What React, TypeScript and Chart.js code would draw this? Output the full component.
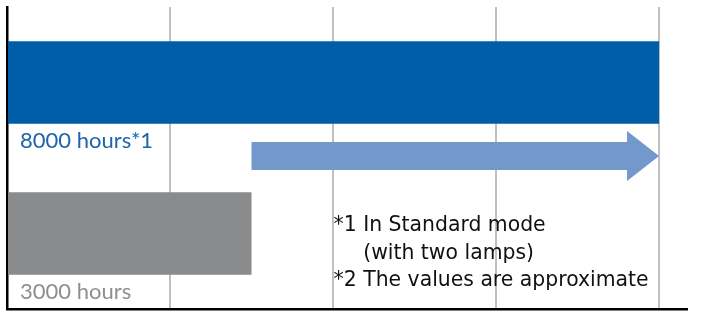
import React, { useEffect, useRef } from "react";
import { Chart, registerables } from "chart.js";

Chart.register(...registerables);

const categories = ["8000 hours*1", "3000 hours"];
const lifeHours = [8000, 3000];
const barColors = ["#005DA8", "#8A8B8D"];
const labelColors = ["#1F63AB", "#8E8E8E"];
const xTickValues = [0, 2000, 4000, 6000, 8000];
const xAxisMax = 8343;
const arrowFrom = 3000;
const arrowTo = 8000;
const notes = ["*1 In Standard mode", "(with two lamps)", "*2 The values are approximate"];
const noteIndentText = "*1 ";
const noteAnchorValue = 4000;

const LABEL_FONT = "Lato, 'DejaVu Sans', sans-serif";
const NOTE_FONT = "'DejaVu Sans', sans-serif";

const overlayPlugin = {
  id: "overlay",
  afterDraw(chart: any) {
    const ctx = chart.ctx;
    const xs = chart.scales.x;
    const ys = chart.scales.y;
    const meta = chart.getDatasetMeta(0);
    ctx.save();

    // arrow from arrowFrom to arrowTo between the two categories
    const x0 = xs.getPixelForValue(arrowFrom);
    const x1 = xs.getPixelForValue(arrowTo);
    const yc = (ys.getPixelForValue(0) + ys.getPixelForValue(1)) / 2 - 2;
    const shaftH = 28;
    const headH = 50;
    const headW = 32;
    ctx.fillStyle = "#7398CB";
    ctx.beginPath();
    ctx.moveTo(x0, yc - shaftH / 2);
    ctx.lineTo(x1 - headW, yc - shaftH / 2);
    ctx.lineTo(x1 - headW, yc - headH / 2);
    ctx.lineTo(x1, yc);
    ctx.lineTo(x1 - headW, yc + headH / 2);
    ctx.lineTo(x1 - headW, yc + shaftH / 2);
    ctx.lineTo(x0, yc + shaftH / 2);
    ctx.closePath();
    ctx.fill();

    // bar labels below each bar
    ctx.textBaseline = "alphabetic";
    ctx.textAlign = "left";
    meta.data.forEach((bar: any, i: number) => {
      const p = bar.getProps(["x", "y", "base", "height"], true);
      ctx.font = `22px ${LABEL_FONT}`;
      ctx.fillStyle = labelColors[i];
      ctx.fillText(categories[i], p.base + 12, p.y + p.height / 2 + 24.5);
    });

    // notes
    ctx.font = `20.4px ${NOTE_FONT}`;
    ctx.fillStyle = "#111111";
    const nx = xs.getPixelForValue(noteAnchorValue) + 0.5;
    const indent = ctx.measureText(noteIndentText).width;
    const baseY = ys.getPixelForValue(1) - 2.5;
    notes.forEach((line, i) => {
      ctx.fillText(line, nx + (i === 1 ? indent : 0), baseY + i * 27.5);
    });
    ctx.restore();
  },
};

export default function App() {
  const ref = useRef<HTMLCanvasElement | null>(null);
  useEffect(() => {
    if (!ref.current) return;
    const chart = new Chart(ref.current, {
      type: "bar",
      data: {
        labels: categories,
        datasets: [
          {
            data: lifeHours,
            backgroundColor: barColors,
            borderWidth: 0,
            categoryPercentage: 1,
            barPercentage: 0.545,
          },
        ],
      },
      options: {
        indexAxis: "y",
        animation: false,
        responsive: true,
        maintainAspectRatio: false,
        layout: { padding: { left: 7, top: 7, right: 17, bottom: 4 } },
        plugins: { legend: { display: false }, tooltip: { enabled: false } },
        scales: {
          x: {
            type: "linear",
            min: 0,
            max: xAxisMax,
            z: 1,
            afterBuildTicks: (scale: any) => {
              scale.ticks = xTickValues.map((v) => ({ value: v }));
            },
            ticks: { display: false },
            grid: { color: "#C0C0C0", lineWidth: 2, drawTicks: false },
            border: { display: true, color: "#000000", width: 2.5 },
          },
          y: {
            ticks: { display: false },
            grid: { display: false, drawTicks: false },
            border: { display: true, color: "#000000", width: 2.5 },
          },
        },
      },
      plugins: [overlayPlugin],
    });
    return () => chart.destroy();
  }, []);
  return (
    <div style={{ position: "fixed", left: 0, top: 0, width: 704, height: 313, background: "#fff" }}>
      <canvas ref={ref} />
    </div>
  );
}
